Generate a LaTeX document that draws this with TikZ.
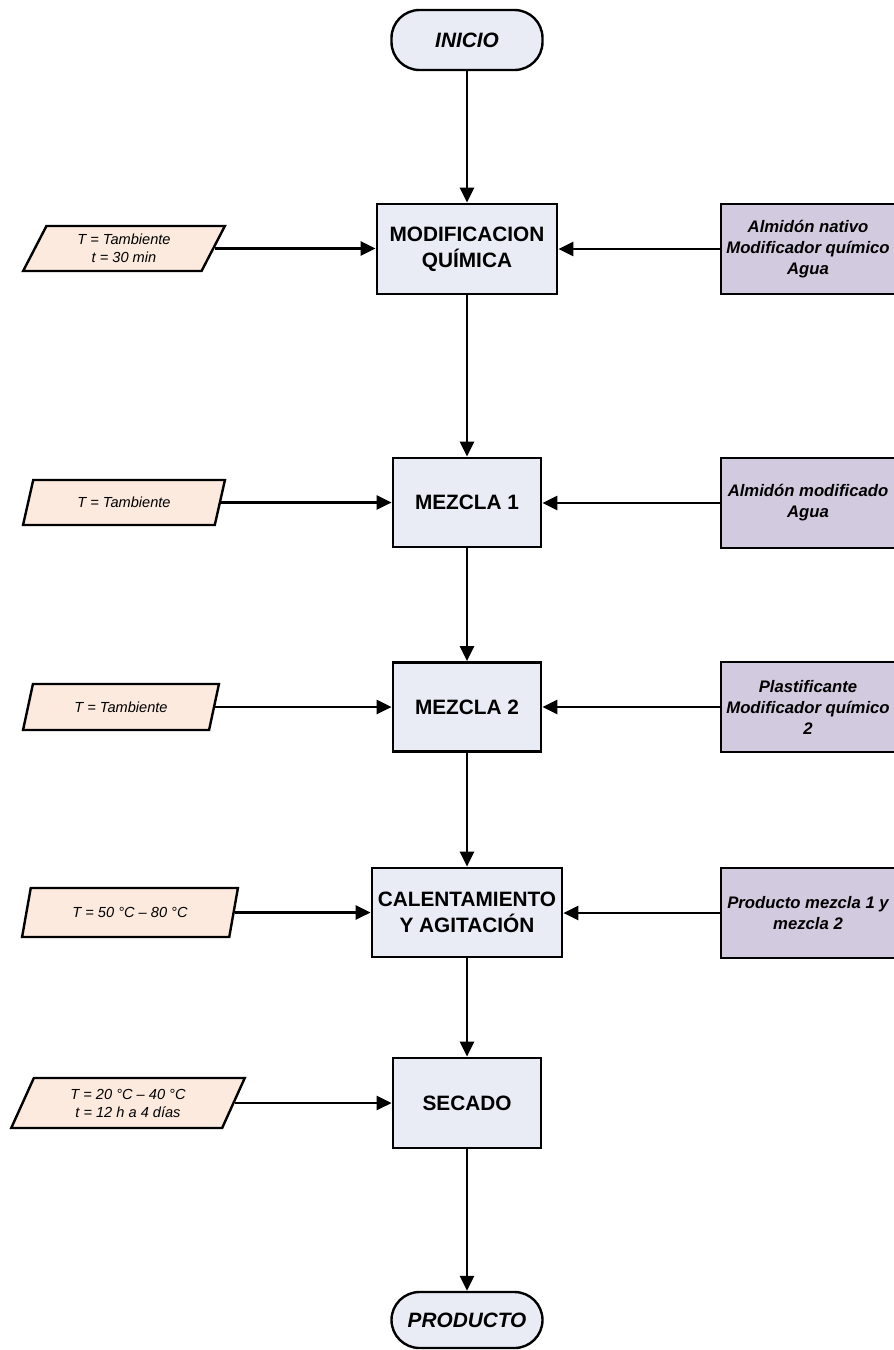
\documentclass[tikz,border=0pt]{standalone}
\usepackage{fontspec}
\setmainfont{Liberation Sans}
\usetikzlibrary{shapes.geometric,arrows.meta}
\definecolor{procfill}{HTML}{E9EBF5}
\definecolor{inputfill}{HTML}{D2CADE}
\definecolor{condfill}{HTML}{FCEADE}
\begin{document}
\begin{tikzpicture}[x=1pt,y=-1pt,
  flow/.style={line width=2.7pt,-{Triangle[length=15pt,width=14pt]}},
  proc/.style={draw,line width=2.7pt,fill=procfill,inner sep=0pt,align=center,
    font=\fontsize{20.8}{26}\selectfont\bfseries},
  term/.style={draw,line width=2.4pt,fill=procfill,inner sep=0pt,
    minimum width=151pt,rounded corners=28pt,
    font=\fontsize{20.8}{24}\selectfont\bfseries\itshape},
  cond/.style={draw,line width=2.4pt,fill=condfill,shape=trapezium,
    trapezium left angle=64,trapezium right angle=116,trapezium stretches=true,
    inner sep=0pt,align=center,font=\fontsize{14.6}{18}\selectfont\itshape},
  feed/.style={draw,line width=2.7pt,fill=inputfill,inner sep=0pt,align=center,
    minimum width=174pt,minimum height=90pt,
    font=\fontsize{16.7}{21}\selectfont\bfseries\itshape}
]
\useasboundingbox (0,0) rectangle (894,1350);

% main process column
\node[term,minimum height=60pt] (ini) at (467,40) {INICIO};
\node[proc,minimum width=180pt,minimum height=90pt] (mod) at (467,249) {MODIFICACION\\QUÍMICA};
\node[proc,minimum width=148pt,minimum height=89pt] (mez1) at (467,502.5) {MEZCLA 1};
\node[proc,minimum width=148pt,minimum height=89pt] (mez2) at (467,707) {MEZCLA 2};
\node[proc,minimum width=190pt,minimum height=89pt] (cal) at (467,912.5) {CALENTAMIENTO\\Y AGITACIÓN};
\node[proc,minimum width=148pt,minimum height=90pt] (sec) at (467,1103) {SECADO};
\node[term,minimum height=56pt] (prod) at (467,1320) {PRODUCTO};

% operating conditions
\node[cond,minimum width=202pt,minimum height=45pt] (c1) at (124,248.5) {T = Tambiente\\t = 30 min};
\node[cond,minimum width=202pt,minimum height=45pt] (c2) at (124,502.5) {T = Tambiente};
\node[cond,minimum width=196pt,minimum height=46pt] (c3) at (121,707) {T = Tambiente};
\node[cond,minimum width=216pt,minimum height=49pt] (c4) at (130,912.5) {T = 50 °C – 80 °C};
\node[cond,minimum width=234pt,minimum height=50pt] (c5) at (128,1103) {T = 20 °C – 40 °C\\t = 12 h a 4 días};

% material inputs
\node[feed] (r1) at (808,249) {Almidón nativo\\Modificador químico\\Agua};
\node[feed] (r2) at (808,503) {Almidón modificado\\Agua};
\node[feed] (r3) at (808,707) {Plastificante\\Modificador químico\\2};
\node[feed] (r4) at (808,913) {Producto mezcla 1 y\\mezcla 2};

% vertical flow
\draw[flow] (ini) -- (mod);
\draw[flow] (mod) -- (mez1);
\draw[flow] (mez1) -- (mez2);
\draw[flow] (mez2) -- (cal);
\draw[flow] (cal) -- (sec);
\draw[flow] (sec) -- (prod);

% conditions into each step
\draw[flow] (c1.east) -- (c1.east -| mod.west);
\draw[flow] (c2.east) -- (c2.east -| mez1.west);
\draw[flow] (c3.east) -- (c3.east -| mez2.west);
\draw[flow] (c4.east) -- (c4.east -| cal.west);
\draw[flow] (c5.east) -- (c5.east -| sec.west);

% materials into each step
\draw[flow] (r1.west) -- (r1.west -| mod.east);
\draw[flow] (r2.west) -- (r2.west -| mez1.east);
\draw[flow] (r3.west) -- (r3.west -| mez2.east);
\draw[flow] (r4.west) -- (r4.west -| cal.east);
\end{tikzpicture}
\end{document}
